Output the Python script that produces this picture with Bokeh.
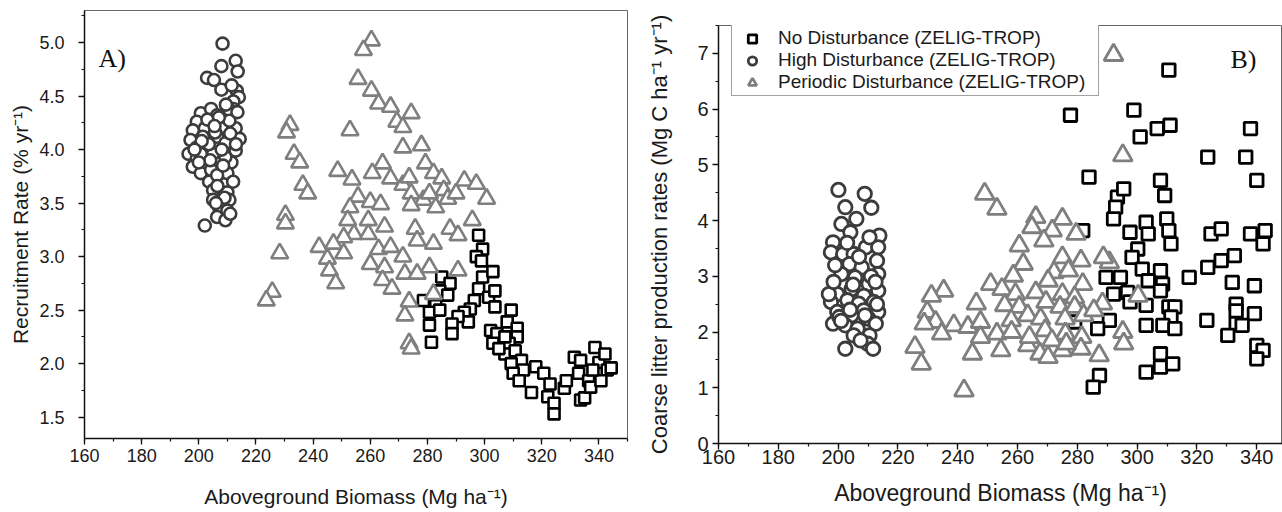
from bokeh.plotting import figure
from bokeh.layouts import row, column
from bokeh.models import (Legend, LegendItem, Label, SingleIntervalTicker, Range1d,
                          NumeralTickFormatter)
from bokeh.embed import file_html
from bokeh.resources import INLINE

FONT = "Liberation Sans"
SERIF = "Liberation Serif"

# ---------------- Panel A: Recruitment rate ----------------
a_nd_x = [297.9, 299.3, 297.1, 298.9, 299.3, 302.9, 297.9, 301.4, 303.6, 296.4, 295.0, 292.9,
          294.3, 290.7, 288.6, 288.6, 285.0, 287.9, 284.3, 287.1, 282.9, 278.6, 280.7, 284.3,
          280.7, 281.4, 303.6, 302.1, 304.3, 302.9, 309.3, 307.9, 311.4, 311.4, 308.6, 307.1,
          310.7, 312.9, 309.3, 313.6, 310.0, 312.1, 317.9, 316.4, 320.7, 322.9, 322.1, 324.3,
          324.3, 327.9, 328.6, 331.4, 333.6, 332.9, 333.6, 335.0, 336.4, 337.1, 338.6, 340.0,
          342.1, 342.9, 344.3, 340.7, 337.9, 305.0, 307.1]
a_nd_y = [3.20, 3.07, 3.00, 2.96, 2.81, 2.86, 2.70, 2.62, 2.68, 2.59, 2.51, 2.48,
          2.39, 2.44, 2.37, 2.28, 2.81, 2.75, 2.68, 2.64, 2.54, 2.59, 2.48, 2.50,
          2.36, 2.20, 2.53, 2.31, 2.28, 2.19, 2.50, 2.39, 2.33, 2.25, 2.19, 2.09,
          2.12, 2.03, 2.00, 1.94, 1.91, 1.84, 1.97, 1.73, 1.91, 1.81, 1.69, 1.63,
          1.53, 1.77, 1.84, 2.06, 2.03, 1.91, 1.66, 1.68, 1.84, 1.78, 2.15, 2.01,
          2.09, 1.94, 1.96, 1.84, 1.94, 2.14, 2.25]

a_hd_x = [208.3, 212.9, 207.9, 213.6, 202.9, 205.3, 207.9, 213.3, 214.0, 212.1, 212.1, 200.7,
          204.3, 206.4, 210.7, 199.3, 202.1, 207.9, 212.9, 197.9, 197.1, 206.4, 214.3, 202.1,
          209.3, 196.4, 199.3, 205.0, 212.9, 197.9, 202.1, 207.1, 211.4, 200.7, 204.3, 208.6,
          203.6, 209.3, 205.0, 210.0, 205.0, 210.7, 207.1, 210.0, 206.4, 209.3, 202.1, 201.4,
          205.7, 210.7, 209.3, 199.3, 210.0, 206.4, 200.7, 203.5, 208.0, 211.0, 204.0, 207.0,
          213.5, 212.0, 209.0, 206.0, 201.0, 198.5, 203.0, 211.5, 209.5, 206.5, 211.0, 208.5,
          213.0, 200.0, 205.5]
a_hd_y = [4.99, 4.83, 4.78, 4.73, 4.67, 4.65, 4.56, 4.55, 4.49, 4.45, 4.38, 4.34,
          4.38, 4.32, 4.37, 4.26, 4.20, 4.21, 4.20, 4.18, 4.09, 4.12, 4.10, 4.02,
          4.06, 3.96, 3.92, 3.96, 3.99, 3.84, 3.87, 3.87, 3.88, 3.78, 3.81, 3.74,
          3.70, 3.68, 3.62, 3.60, 3.53, 3.53, 3.46, 3.43, 3.37, 3.34, 3.29, 4.12,
          4.16, 4.27, 3.93, 4.02, 3.78, 3.76, 3.96, 4.05, 4.00, 4.15, 3.90, 4.30,
          4.35, 3.70, 3.55, 3.50, 4.08, 4.00, 4.28, 4.60, 4.42, 3.66, 3.40, 3.85,
          4.05, 3.88, 4.22]

a_pd_x = [260.4, 257.6, 255.7, 260.4, 262.9, 267.1, 269.3, 271.4, 274.3, 252.9, 231.9, 230.7,
          233.3, 235.3, 236.4, 238.1, 230.3, 230.3, 228.3, 225.7, 223.6, 271.4, 277.9, 264.3,
          260.7, 248.6, 253.6, 267.1, 271.4, 273.6, 279.3, 282.1, 285.0, 292.9, 297.1, 300.7,
          255.7, 252.9, 260.0, 263.6, 274.3, 278.6, 280.7, 285.7, 282.9, 287.1, 290.0, 252.1,
          254.3, 250.7, 259.3, 265.0, 275.7, 287.9, 295.7, 290.7, 242.1, 247.1, 245.0, 250.7,
          245.7, 247.9, 262.9, 267.1, 271.4, 276.4, 260.0, 265.0, 272.1, 276.4, 280.7, 264.3,
          267.6, 290.7, 273.6, 272.1, 273.6, 274.3, 282.1, 282.1, 259.3, 274.3]
a_pd_y = [5.02, 4.93, 4.66, 4.55, 4.43, 4.40, 4.26, 4.21, 4.34, 4.18, 4.23, 4.16,
          3.96, 3.88, 3.67, 3.59, 3.39, 3.31, 3.03, 2.67, 2.59, 4.02, 4.04, 3.87,
          3.78, 3.80, 3.72, 3.73, 3.67, 3.74, 3.87, 3.78, 3.73, 3.71, 3.68, 3.54,
          3.56, 3.46, 3.51, 3.49, 3.59, 3.53, 3.59, 3.62, 3.46, 3.54, 3.59, 3.34,
          3.21, 3.18, 3.34, 3.28, 3.26, 3.26, 3.34, 3.20, 3.09, 3.12, 2.98, 3.03,
          2.87, 2.75, 3.07, 3.09, 3.00, 3.15, 2.93, 2.90, 2.84, 2.84, 2.90, 2.78,
          2.70, 2.87, 2.58, 2.45, 2.19, 2.14, 2.65, 3.12, 3.21, 3.48]

# ---------------- Panel B: Coarse litter production ----------------
b_nd_x = [310.6, 277.7, 298.9, 301.0, 306.7, 311.0, 283.9, 323.6, 337.9, 336.3, 340.0, 307.8,
          309.2, 293.4, 295.5, 292.8, 292.1, 303.0, 309.9, 310.6, 311.3, 297.6, 303.7, 300.2,
          298.3, 281.8, 324.7, 328.1, 337.9, 342.8, 342.1, 332.5, 328.1, 323.6, 317.4, 301.7,
          307.8, 294.4, 289.6, 303.7, 308.5, 331.8, 339.2, 292.1, 296.8, 307.8, 333.1, 303.0,
          310.6, 312.6, 297.6, 333.1, 339.2, 323.3, 311.3, 279.1, 290.7, 303.0, 286.8, 308.6,
          312.6, 333.1, 335.1, 330.3, 340.0, 342.1, 340.0, 307.8, 307.8, 311.9, 303.0, 287.4,
          285.3]
b_nd_y = [6.70, 5.89, 5.98, 5.50, 5.65, 5.71, 4.78, 5.14, 5.65, 5.14, 4.72, 4.72,
          4.45, 4.42, 4.57, 4.24, 4.03, 3.97, 4.03, 3.82, 3.58, 3.79, 3.76, 3.49,
          3.34, 3.82, 3.76, 3.85, 3.76, 3.82, 3.58, 3.37, 3.28, 3.16, 2.98, 3.13,
          3.10, 2.98, 2.98, 2.92, 2.86, 2.89, 2.83, 2.68, 2.71, 2.74, 2.50, 2.48,
          2.45, 2.45, 2.54, 2.38, 2.33, 2.21, 2.27, 2.18, 2.21, 2.12, 2.06, 2.12,
          2.06, 2.15, 2.12, 1.94, 1.76, 1.67, 1.52, 1.61, 1.37, 1.43, 1.28, 1.22,
          1.01]

b_hd_x = [200.1, 208.9, 202.4, 211.1, 206.1, 201.1, 204.1, 213.8, 198.3, 209.3, 213.4, 197.6,
          201.7, 205.2, 203.8, 213.0, 207.9, 201.1, 205.7, 213.4, 210.2, 204.5, 199.7, 213.4,
          208.6, 203.1, 197.6, 206.9, 211.9, 199.7, 204.5, 213.4, 210.2, 198.3, 202.4, 206.5,
          212.6, 205.2, 210.5, 209.9, 202.4, 211.7, 200.4, 208.6, 196.9, 203.0, 207.0, 211.0,
          199.0, 205.0, 209.0, 213.0, 201.0, 207.5, 212.5, 198.5, 204.0, 210.5]
b_hd_y = [4.55, 4.48, 4.24, 4.23, 4.03, 3.94, 3.79, 3.73, 3.61, 3.52, 3.52, 3.43,
          3.40, 3.40, 3.22, 3.28, 3.16, 3.04, 2.98, 3.04, 2.86, 2.77, 2.68, 2.74,
          2.65, 2.57, 2.54, 2.51, 2.54, 2.36, 2.30, 2.36, 2.24, 2.15, 2.12, 2.06,
          2.15, 1.94, 1.94, 1.79, 1.70, 1.70, 2.27, 2.39, 2.68, 3.60, 3.35, 3.00,
          3.20, 2.85, 2.30, 2.50, 2.20, 1.85, 2.90, 2.90, 2.40, 3.70]

b_pd_x = [292.1, 295.2, 249.0, 253.1, 266.1, 275.0, 264.8, 271.6, 279.6, 268.8, 260.6, 261.9,
          275.0, 281.2, 290.7, 288.7, 258.6, 251.0, 272.2, 270.2, 277.0, 281.8, 254.8, 235.3,
          231.2, 259.3, 266.1, 275.0, 279.1, 300.3, 229.8, 246.2, 255.7, 260.6, 269.5, 274.2,
          279.1, 288.4, 232.6, 238.7, 228.8, 243.4, 247.6, 257.9, 263.4, 267.7, 275.9, 282.1,
          285.5, 234.6, 247.6, 253.1, 258.0, 269.2, 276.0, 281.5, 295.2, 225.7, 227.8, 244.9,
          254.4, 263.4, 267.5, 270.2, 275.0, 281.2, 287.3, 295.5, 242.1, 264.0, 271.5, 276.3]
b_pd_y = [6.97, 5.17, 4.48, 4.21, 4.06, 4.03, 3.88, 3.82, 3.76, 3.64, 3.55, 3.22,
          3.34, 3.28, 3.25, 3.34, 3.01, 2.86, 3.07, 2.92, 3.10, 2.86, 2.77, 2.74,
          2.65, 2.68, 2.71, 2.68, 2.62, 2.65, 2.36, 2.51, 2.48, 2.45, 2.54, 2.45,
          2.45, 2.51, 2.18, 2.12, 2.15, 2.09, 2.18, 2.21, 2.30, 2.24, 2.24, 2.30,
          2.39, 1.97, 1.91, 1.97, 2.00, 2.03, 1.97, 1.91, 2.00, 1.73, 1.43, 1.61,
          1.67, 1.76, 1.61, 1.55, 1.67, 1.70, 1.58, 1.79, 0.95, 1.91, 1.85, 1.79]

NAMES = ["No Disturbance (ZELIG-TROP)", "High Disturbance (ZELIG-TROP)",
         "Periodic Disturbance (ZELIG-TROP)"]
SQ_COLOR, CI_COLOR, TR_COLOR = "#000000", "#3c3c3c", "#7f7f7f"


def style_axes(p, xint, yint, tick_px, xlab, ylab, lab_px, x_lab_standoff, y_lab_standoff,
               x_tick_standoff, y_tick_standoff):
    p.xaxis.ticker = SingleIntervalTicker(interval=xint, num_minor_ticks=2)
    p.yaxis.ticker = SingleIntervalTicker(interval=yint, num_minor_ticks=2)
    p.xgrid.visible = False
    p.ygrid.visible = False
    for ax in (p.xaxis[0], p.yaxis[0]):
        ax.axis_line_color = "#111111"
        ax.axis_line_width = 1.5
        ax.major_tick_line_color = "#111111"
        ax.minor_tick_line_color = "#111111"
        ax.major_tick_line_width = 1.3
        ax.minor_tick_line_width = 1.2
        ax.major_tick_out = 6
        ax.major_tick_in = 0
        ax.minor_tick_out = 3
        ax.minor_tick_in = 0
        ax.major_label_text_font = FONT
        ax.major_label_text_font_size = f"{tick_px}px"
        ax.major_label_text_color = "#1a1a1a"
        ax.axis_label_text_font = FONT
        ax.axis_label_text_font_size = f"{lab_px}px"
        ax.axis_label_text_font_style = "normal"
        ax.axis_label_text_color = "#1a1a1a"
    p.xaxis.axis_label = xlab
    p.yaxis.axis_label = ylab
    p.xaxis.axis_label_standoff = x_lab_standoff
    p.yaxis.axis_label_standoff = y_lab_standoff
    p.xaxis.major_label_standoff = x_tick_standoff
    p.yaxis.major_label_standoff = y_tick_standoff
    p.outline_line_color = "#666666"
    p.outline_line_width = 1
    p.background_fill_color = "white"
    p.border_fill_color = "white"


# ---------- Figure A ----------
pa = figure(width=642, height=512, x_range=Range1d(160, 350), y_range=Range1d(1.3, 5.3),
            output_backend="svg", toolbar_location=None,
            min_border_left=84, min_border_right=15, min_border_top=10, min_border_bottom=74)
style_axes(pa, 20, 0.5, 18, "Aboveground Biomass (Mg ha\u207b\u00b9)",
           "Recruitment Rate (% yr\u207b\u00b9)", 21, 20, 4, 4, 14)
pa.yaxis.formatter = NumeralTickFormatter(format="0.0")
pa.scatter(a_nd_x, a_nd_y, marker="square", size=11, fill_color="white",
           line_color=SQ_COLOR, line_width=2.6)
pa.scatter(a_hd_x, a_hd_y, marker="circle", size=12, fill_color="white",
           line_color=CI_COLOR, line_width=2.6)
pa.scatter(a_pd_x, a_pd_y, marker="triangle", size=17, fill_color="white",
           line_color=TR_COLOR, line_width=2.6)
pa.add_layout(Label(x=14, y=380, x_units="screen", y_units="screen", text="A)",
                    text_font=SERIF, text_font_size="26px", text_baseline="middle",
                    text_color="#111111"))

# ---------- Figure B ----------
pb = figure(width=640, height=512, x_range=Range1d(160, 348.6), y_range=Range1d(0, 7.5),
            output_backend="svg", toolbar_location=None,
            min_border_left=76, min_border_right=0, min_border_top=25, min_border_bottom=69)
style_axes(pb, 20, 1, 20, "Aboveground Biomass (Mg ha\u207b\u00b9)",
           "Coarse litter production rates (Mg C ha\u207b\u00b9 yr\u207b\u00b9)", 22, 13, 22, 0, 4)
pb.xaxis.axis_label_text_font_size = "23px"
rs = pb.scatter(b_nd_x, b_nd_y, marker="square", size=12.5, fill_color="white",
                line_color=SQ_COLOR, line_width=2.8)
rc = pb.scatter(b_hd_x, b_hd_y, marker="circle", size=13.5, fill_color="white",
                line_color=CI_COLOR, line_width=2.8)
rt = pb.scatter(b_pd_x, b_pd_y, marker="triangle", size=19, fill_color="white",
                line_color=TR_COLOR, line_width=2.8)
legend = Legend(items=[LegendItem(label=NAMES[0], renderers=[rs]),
                       LegendItem(label=NAMES[1], renderers=[rc]),
                       LegendItem(label=NAMES[2], renderers=[rt])],
                location=(13, 347), padding=2, spacing=0, margin=0,
                glyph_height=21, glyph_width=36, label_height=21, label_standoff=8,
                label_width=318,
                label_text_font=FONT, label_text_font_size="19px",
                label_text_color="#1a1a1a", border_line_color="#444444",
                border_line_width=1, background_fill_color="white", background_fill_alpha=1)
pb.add_layout(legend)
pb.add_layout(Label(x=512, y=384, x_units="screen", y_units="screen", text="B)",
                    text_font=SERIF, text_font_size="26px", text_baseline="middle",
                    text_color="#111111"))

layout = row(column(pa), column(pb))
open("out.html", "w").write(file_html(layout, INLINE))
